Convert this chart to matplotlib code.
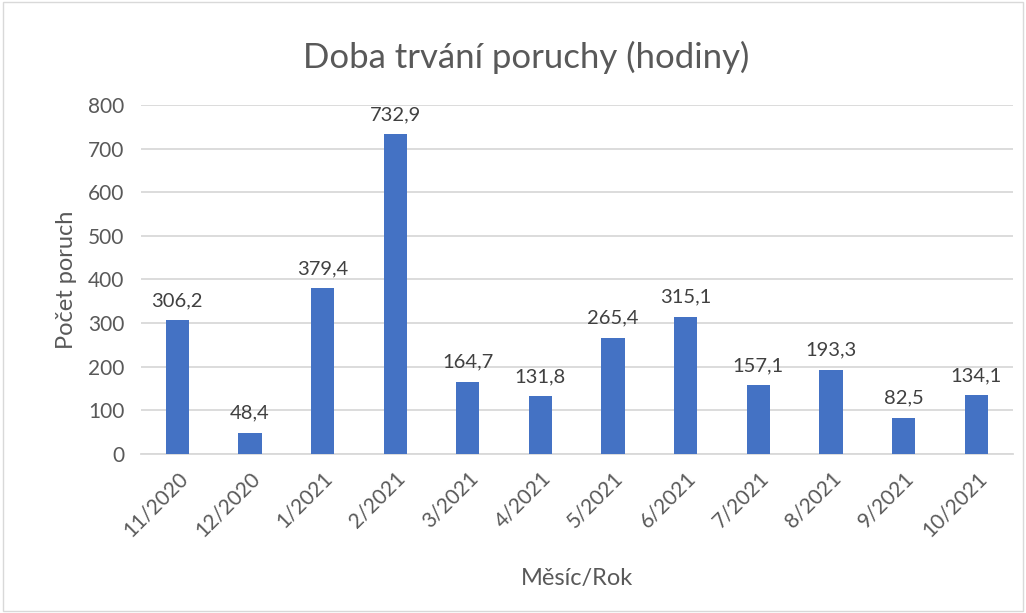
import matplotlib.pyplot as plt

months = ["11/2020", "12/2020", "1/2021", "2/2021", "3/2021", "4/2021",
          "5/2021", "6/2021", "7/2021", "8/2021", "9/2021", "10/2021"]
hours = [306.2, 48.4, 379.4, 732.9, 164.7, 131.8, 265.4, 315.1, 157.1, 193.3, 82.5, 134.1]

plt.rcParams['font.family'] = ['Lato', 'DejaVu Sans']
grey = "#595959"

fig = plt.figure(figsize=(10.26, 6.13), dpi=100)
ax = fig.add_axes([0.1374, 0.2594, 0.8495, 0.5693])

x = range(len(months))
ax.bar(x, hours, width=0.32, color="#4472C4", zorder=3)
for xi, v in zip(x, hours):
    ax.text(xi, v + 26, f"{v:.1f}".replace(".", ","), ha="center", va="bottom",
            fontsize=14.5, color="#404040")

ax.set_xlim(-0.5, len(months) - 0.5)
ax.set_ylim(0, 800)
ax.set_yticks(range(0, 801, 100))
ax.set_xticks(list(x))
ax.set_xticklabels(months, rotation=45, ha="right", rotation_mode="anchor")
ax.tick_params(axis="both", length=0, labelsize=15, colors=grey)
ax.tick_params(axis="x", pad=10)
ax.tick_params(axis="y", pad=12)
ax.grid(axis="y", color="#d9d9d9", linewidth=1.3, zorder=0)
for s in ["top", "right", "left"]:
    ax.spines[s].set_visible(False)
ax.spines["bottom"].set_color("#d9d9d9")
ax.spines["bottom"].set_linewidth(1.3)

ax.set_ylabel("Počet poruch", fontsize=17, color=grey, labelpad=8)
fig.text(0.562, 0.057, "Měsíc/Rok", fontsize=17, color=grey, ha="center", va="center")
fig.text(0.513, 0.907, "Doba trvání poruchy (hodiny)", fontsize=25, color=grey,
         ha="center", va="center")

fig.patches.append(plt.Rectangle((0.003, 0.003), 0.994, 0.994, transform=fig.transFigure,
                                 fill=False, edgecolor="#d9d9d9", linewidth=1))

plt.savefig("out.png")
